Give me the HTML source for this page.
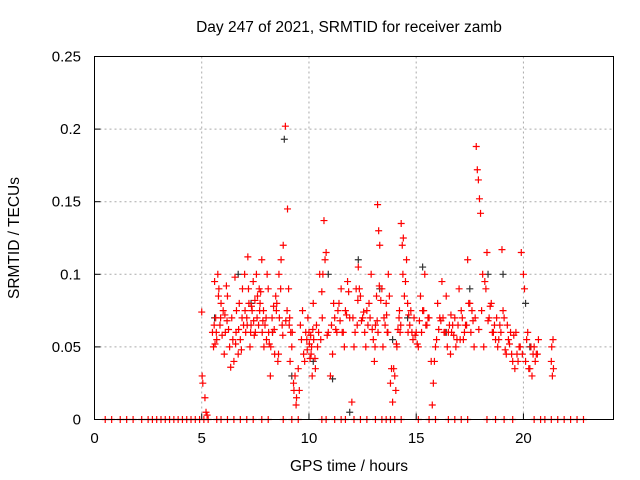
<!DOCTYPE html>
<html><head><meta charset="utf-8"><style>
body{margin:0;background:#fff;}
svg{display:block;font-family:"Liberation Sans",sans-serif;}
</style></head><body>
<svg id="chart" width="640" height="480">
<text x="349" y="32" font-size="15.5" text-anchor="middle" fill="#000">Day 247 of 2021, SRMTID for receiver zamb</text>
<text x="349" y="471" font-size="15.5" text-anchor="middle">GPS time / hours</text>
<text transform="translate(19,238) rotate(-90)" font-size="15.5" text-anchor="middle">SRMTID / TECUs</text>
<g id="grid"></g><g id="ticks"></g><g id="marks"></g>
<rect x="94.5" y="56.5" width="519" height="363" fill="none" stroke="#000"/>
</svg>
<script>
const xTicks=[0,5,10,15,20];
const yTicks=[0,0.05,0.1,0.15,0.2,0.25];
const yTickLabels=["0","0.05","0.1","0.15","0.2","0.25"];
const zeroTimes=[0.5,0.8,1.2,1.5,1.8,2.2,2.5,2.7,2.9,3.1,3.3,3.5,3.7,3.9,4.1,4.3,4.5,4.7,4.9,5.1,5.3,5.7,5.9,6.2,6.5,6.8,7.1,7.4,7.8,8.1,8.8,9.2,9.5,10.6,10.8,11.2,11.5,11.7,12.1,12.4,12.7,13.1,13.4,13.6,13.8,14.0,14.3,15.1,15.6,15.9,16.5,16.8,17.1,17.4,18.3,18.7,19.1,19.5,20.5,20.8,21.0,21.3,21.6,21.9,22.2,22.5,22.8];
const redT=[5.0,5.02,5.05,5.15,5.2,5.25,5.5,5.55,5.6,5.62,5.65,5.7,5.75,5.8,5.85,5.9,6.0,6.05,6.1,6.15,6.2,6.3,6.35,6.4,6.5,6.55,6.6,6.7,6.75,6.8,6.9,6.95,7.0,7.05,7.1,7.15,7.2,7.25,7.3,7.35,7.4,7.45,7.5,7.55,7.6,7.7,7.75,7.8,7.85,7.9,8.0,8.05,8.1,8.15,8.2,8.3,8.35,8.4,8.45,8.5,8.55,8.6,8.7,8.75,8.8,8.9,9.0,9.05,9.1,9.15,9.2,9.3,9.35,9.4,9.5,9.6,9.65,9.7,9.8,9.9,9.95,10.0,10.05,10.1,10.15,10.2,10.3,10.35,10.4,10.5,10.55,10.6,10.7,10.75,10.8,10.9,11.0,11.1,11.2,11.3,11.4,11.5,11.6,11.7,11.8,11.9,12.0,12.1,12.2,12.25,12.3,12.4,12.5,12.6,12.7,12.8,12.9,13.0,13.05,13.1,13.15,13.2,13.25,13.3,13.4,13.5,13.6,13.65,13.7,13.8,13.85,13.9,14.0,14.05,14.1,14.2,14.25,14.3,14.35,14.4,14.5,14.55,14.6,14.7,14.8,14.9,15.0,15.1,15.2,15.3,15.4,15.5,15.6,15.7,15.75,15.8,15.9,16.0,16.1,16.2,16.3,16.4,16.5,16.6,16.7,16.8,16.9,17.0,17.1,17.2,17.3,17.4,17.5,17.6,17.7,17.8,17.85,17.9,17.95,18.0,18.1,18.2,18.3,18.4,18.5,18.6,18.7,18.8,18.9,19.0,19.05,19.1,19.2,19.3,19.4,19.5,19.6,19.7,19.8,19.9,20.0,20.05,20.1,20.2,20.3,20.4,20.5,20.6,20.7,21.3,21.35,21.4,21.45];
const redV=[0.074,0.03,0.025,0.015,0.005,0.003,0.06,0.05,0.095,0.052,0.07,0.055,0.1,0.09,0.065,0.08,0.075,0.045,0.06,0.092,0.085,0.05,0.036,0.07,0.04,0.098,0.06,0.045,0.08,0.055,0.09,0.065,0.1,0.06,0.07,0.112,0.08,0.05,0.065,0.075,0.095,0.058,0.06,0.1,0.085,0.075,0.088,0.11,0.068,0.05,0.07,0.1,0.09,0.052,0.03,0.06,0.078,0.045,0.085,0.08,0.04,0.1,0.11,0.065,0.12,0.202,0.145,0.09,0.07,0.06,0.05,0.02,0.03,0.01,0.035,0.065,0.055,0.075,0.04,0.055,0.07,0.06,0.042,0.045,0.03,0.08,0.035,0.065,0.05,0.1,0.055,0.088,0.137,0.11,0.115,0.06,0.03,0.045,0.07,0.06,0.08,0.09,0.06,0.075,0.095,0.07,0.012,0.05,0.09,0.065,0.105,0.085,0.07,0.06,0.075,0.08,0.1,0.055,0.04,0.065,0.085,0.148,0.13,0.12,0.09,0.07,0.08,0.06,0.1,0.025,0.035,0.012,0.03,0.02,0.05,0.07,0.06,0.135,0.12,0.125,0.095,0.11,0.08,0.065,0.06,0.07,0.06,0.05,0.085,0.075,0.1,0.065,0.07,0.04,0.01,0.025,0.05,0.08,0.07,0.095,0.06,0.085,0.06,0.045,0.065,0.07,0.055,0.09,0.075,0.055,0.065,0.11,0.08,0.075,0.05,0.188,0.172,0.165,0.152,0.142,0.1,0.095,0.115,0.07,0.08,0.06,0.055,0.05,0.065,0.117,0.075,0.07,0.045,0.055,0.06,0.04,0.035,0.045,0.05,0.115,0.1,0.09,0.04,0.06,0.035,0.03,0.05,0.045,0.055,0.04,0.03,0.035];
const extraT=[5.58,5.68,5.78,5.88,5.95,6.08,6.18,6.25,6.45,6.58,6.62,6.72,6.85,6.88,7.02,7.12,7.18,7.28,7.32,7.42,7.48,7.58,7.65,7.68,7.72,7.82,7.88,7.95,8.02,8.12,8.22,8.28,8.38,8.48,8.58,8.62,8.68,8.78,8.92,8.98,9.08,9.12,9.22,9.28,9.42,9.55,9.75,9.85,9.92,10.02,10.08,10.12,10.18,10.22,10.28,10.45,10.62,10.65,10.85,11.05,11.15,11.25,11.35,11.45,11.55,11.65,11.75,11.85,12.05,12.15,12.28,12.35,12.45,12.55,12.65,12.75,12.85,12.95,13.08,13.18,13.22,13.28,13.35,13.45,13.55,13.62,13.68,13.75,13.95,14.08,14.15,14.22,14.28,14.38,14.45,14.62,14.65,14.75,14.85,14.95,15.05,15.15,15.25,15.35,15.45,15.55,15.85,15.95,16.05,16.15,16.25,16.35,16.45,16.55,16.62,16.65,16.75,16.85,16.95,17.05,17.15,17.25,17.35,17.45,17.55,17.65,17.75,17.92,18.05,18.15,18.25,18.35,18.45,18.55,18.65,18.75,18.85,18.95,19.15,19.25,19.35,19.45,19.55,19.65,19.75,19.85,19.95,20.15,20.25,20.35,20.45,20.55,20.65,21.32,21.38];
const extraV=[0.065,0.06,0.085,0.07,0.058,0.072,0.068,0.062,0.055,0.052,0.075,0.062,0.048,0.07,0.075,0.065,0.09,0.06,0.078,0.068,0.082,0.07,0.065,0.09,0.08,0.06,0.075,0.065,0.055,0.06,0.05,0.07,0.062,0.075,0.045,0.07,0.09,0.058,0.068,0.075,0.065,0.04,0.06,0.025,0.015,0.02,0.045,0.06,0.048,0.052,0.058,0.05,0.062,0.055,0.042,0.06,0.07,0.1,0.058,0.065,0.08,0.062,0.075,0.068,0.06,0.05,0.072,0.088,0.07,0.06,0.082,0.09,0.068,0.074,0.05,0.065,0.07,0.062,0.05,0.068,0.06,0.092,0.082,0.05,0.065,0.072,0.06,0.085,0.035,0.052,0.062,0.075,0.065,0.1,0.085,0.06,0.072,0.075,0.055,0.058,0.052,0.068,0.06,0.075,0.065,0.07,0.04,0.055,0.062,0.068,0.07,0.06,0.05,0.065,0.072,0.06,0.058,0.05,0.065,0.055,0.07,0.06,0.065,0.08,0.06,0.068,0.07,0.062,0.075,0.05,0.09,0.068,0.078,0.06,0.065,0.07,0.055,0.06,0.048,0.065,0.052,0.045,0.058,0.06,0.04,0.05,0.045,0.055,0.035,0.05,0.045,0.04,0.045,0.05,0.055,0.048,0.05,0.045];
const blackT=[5.6,6.7,7.3,8.3,8.85,9.2,10.2,10.9,11.1,11.9,12.3,13.3,13.9,14.6,15.3,16.4,17.5,18.35,19.05,20.1,20.3];
const blackV=[0.07,0.1,0.08,0.06,0.193,0.03,0.04,0.1,0.028,0.005,0.11,0.09,0.055,0.07,0.105,0.06,0.09,0.1,0.1,0.08,0.05];
const NS="http://www.w3.org/2000/svg";
const X0=94.5,X1=613.5,XMAX=24.2,Y0=419.5,Y1=56.5,YMAX=0.25;
function xs(v){return X0+(X1-X0)*v/XMAX;}
function ys(v){return Y0-(Y0-Y1)*v/YMAX;}
const grid=document.getElementById('grid'),ticks=document.getElementById('ticks'),marks=document.getElementById('marks');
function mk(tag,a,p){const e=document.createElementNS(NS,tag);for(const k in a)e.setAttribute(k,a[k]);p.appendChild(e);return e;}
xTicks.forEach(t=>{const x=xs(t);
 if(t>0){const g=mk('line',{x1:x,x2:x,y1:Y1,y2:Y0,stroke:'#aaa','stroke-dasharray':'2,3'},grid);
 
 }
 mk('line',{x1:x,x2:x,y1:Y0,y2:Y0-6,stroke:'#000'},ticks);
 const l=mk('text',{x:x,y:443,'font-size':15,'text-anchor':'middle'},ticks);l.textContent=t;
 
 });
yTicks.forEach((t,i)=>{const y=ys(t);
 if(t>0){const g=mk('line',{x1:X0,x2:X1,y1:y,y2:y,stroke:'#aaa','stroke-dasharray':'2,3'},grid);
 
 }
 mk('line',{x1:X0,x2:X0+6,y1:y,y2:y,stroke:'#000'},ticks);
 const l=mk('text',{x:81,y:y+5,'font-size':15,'text-anchor':'end'},ticks);l.textContent=yTickLabels[i];
 
 });
function plus(t,v,c,name){const x=xs(t),y=ys(v);
 const p=mk('path',{d:`M${x-3.5},${y}H${x+3.5}M${x},${y-3.5}V${y+3.5}`,stroke:c,'stroke-width':1.2,fill:'none'},marks);
 
 }
blackT.forEach((t,i)=>plus(t,blackV[i],'#333','black-point'));
redT.forEach((t,i)=>plus(t,redV[i],'#f00','red-point'));
extraT.forEach((t,i)=>plus(t,extraV[i],'#f00','red-point'));
zeroTimes.forEach(t=>plus(t,0,'#f00','zero-point'));
</script>
</body></html>
